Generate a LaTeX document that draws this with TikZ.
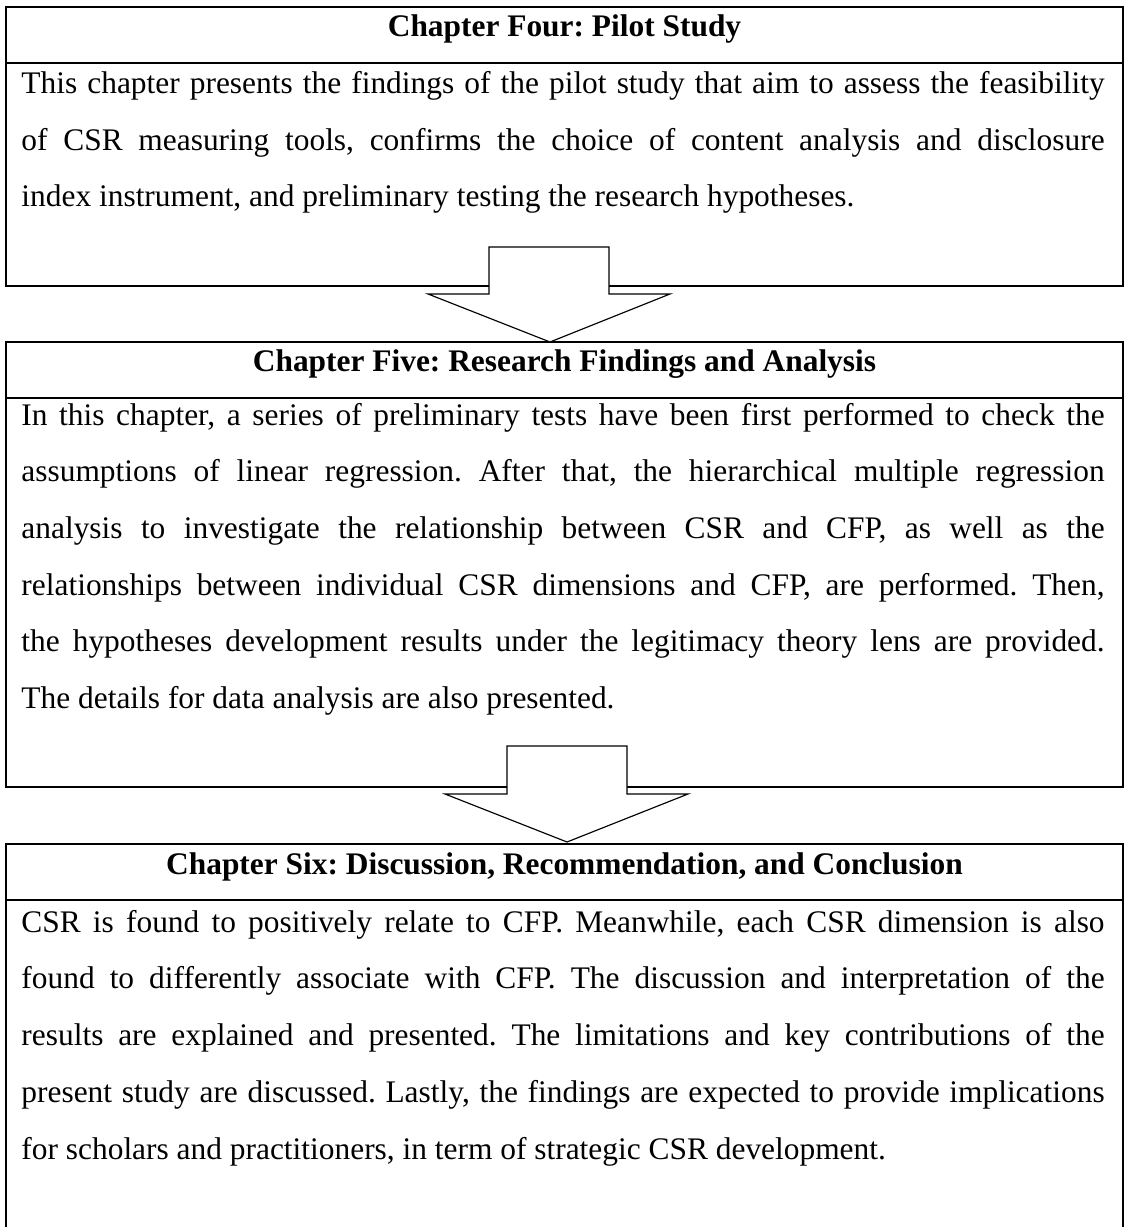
\documentclass[tikz,border=0pt]{standalone}
\usepackage{fontspec}
\setmainfont{Liberation Serif}
\frenchspacing
\begin{document}
\begin{tikzpicture}[x=0.433pt,y=-0.433pt,
		chapbox/.style={line width=1.2pt},
		rowline/.style={line width=1pt},
		chaptitle/.style={inner sep=0pt,anchor=base,font=\bfseries\fontsize{13.6pt}{16pt}\selectfont},
		chaptext/.style={inner sep=0pt,anchor=north west,text width=469pt,align=justify,font=\fontsize{13.6pt}{24.55pt}\selectfont},
		blockarrow/.style={draw,fill=white,line width=0.5pt}]
	\useasboundingbox (0,0) rectangle (1125,1227);
	% chapter four
	\draw [chapbox] (6,7) rectangle (1123,286);
	\draw [rowline] (6,63) -- (1123,63);
	\node (fourtitle) [chaptitle] at (564.5,37) {Chapter Four: Pilot Study};
	\node (fourtext) [chaptext] at (21,58.4) {\rule{0pt}{15pt}This chapter presents the findings of the pilot study that aim to assess the feasibility\linebreak of CSR measuring tools, confirms the choice of content analysis and disclosure\linebreak index instrument, and preliminary testing the research hypotheses.};
	% chapter five
	\draw [chapbox] (6,342) rectangle (1123,787);
	\draw [rowline] (6,398) -- (1123,398);
	\node (fivetitle) [chaptitle] at (564.5,372) {Chapter Five: Research Findings and Analysis};
	\node (fivetext) [chaptext] at (21,390) {\rule{0pt}{15pt}In this chapter, a series of preliminary tests have been first performed to check the\linebreak assumptions of linear regression. After that, the hierarchical multiple regression\linebreak analysis to investigate the relationship between CSR and CFP, as well as the\linebreak relationships between individual CSR dimensions and CFP, are performed. Then,\linebreak the hypotheses development results under the legitimacy theory lens are provided.\linebreak The details for data analysis are also presented.};
	% chapter six, cut off at the bottom
	\draw [chapbox] (6,1227) |- (1123,844) -- (1123,1227);
	\draw [rowline] (6,900) -- (1123,900);
	\node (sixtitle) [chaptitle] at (564.5,874) {Chapter Six: Discussion, Recommendation, and Conclusion};
	\node (sixtext) [chaptext] at (21,897.1) {\rule{0pt}{15pt}CSR is found to positively relate to CFP. Meanwhile, each CSR dimension is also\linebreak found to differently associate with CFP. The discussion and interpretation of the\linebreak results are explained and presented. The limitations and key contributions of the\linebreak present study are discussed. Lastly, the findings are expected to provide implications\linebreak for scholars and practitioners, in term of strategic CSR development.};
	% block arrows
	\coordinate (tipfive) at (550,342);
	\coordinate (tipsix) at (567,842);
	\draw [blockarrow] (tipfive) -- +(-122,-48) -- +(-61,-48) -- +(-61,-95) -- +(59,-95) -- +(59,-48) -- +(120,-48) -- cycle;
	\draw [blockarrow] (tipsix) -- +(-122,-48) -- +(-60,-48) -- +(-60,-96) -- +(60,-96) -- +(60,-48) -- +(121,-48) -- cycle;
\end{tikzpicture}
\end{document}
